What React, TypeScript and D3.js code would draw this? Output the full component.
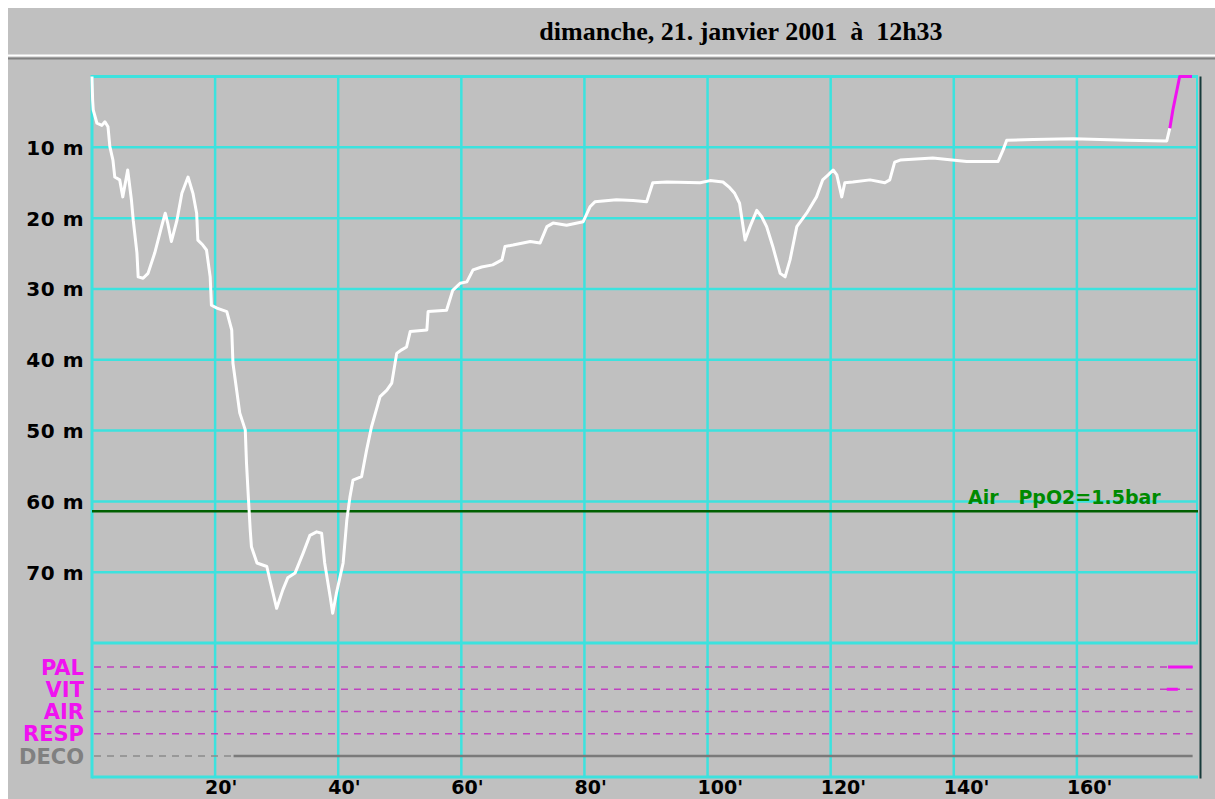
import React from "react";
import * as d3 from "d3";

// ---- data ----
const title = "dimanche, 21. janvier 2001  à  12h33";
const minuteTicks = [20, 40, 60, 80, 100, 120, 140, 160];
const depthTicks = [10, 20, 30, 40, 50, 60, 70];
const alarmRows = ["PAL", "VIT", "AIR", "RESP", "DECO"];
const ppo2Depth = 61.4;
const ppo2Label = "Air   PpO2=1.5bar";

// dive profile: [minutes, depth m]
const profile: [number, number][] = [
  [0, 0], [0.1, 3.3], [0.2, 4.7], [0.8, 6.6], [1.6, 6.9], [2.1, 6.4], [2.6, 7.1], [2.9, 9.9],
  [3.4, 11.8], [3.7, 14.2], [4.5, 14.6], [5.0, 17.0], [5.8, 13.2], [6.4, 17.4], [6.7, 20.3],
  [7.3, 24.9], [7.5, 28.3], [8.3, 28.5], [9.1, 27.8], [10.2, 24.9], [11.3, 21.2], [11.9, 19.3],
  [12.3, 20.7], [12.9, 23.3], [13.8, 20.3], [14.6, 16.5], [15.6, 14.2], [16.4, 16.5], [17.0, 19.3],
  [17.2, 23.1], [18.0, 23.8], [18.6, 24.5], [19.2, 28.3], [19.4, 32.3], [20.3, 32.7], [21.9, 33.2],
  [22.7, 35.8], [22.9, 40.5], [23.5, 44.3], [24.0, 47.5], [24.9, 49.9], [25.1, 54.6], [25.4, 59.4],
  [25.7, 64.0], [25.9, 66.4], [26.8, 68.7], [28.4, 69.2], [28.9, 71.1], [30.0, 75.1], [31.0, 72.5],
  [31.8, 70.8], [33.0, 70.1], [34.3, 67.3], [35.4, 64.8], [36.5, 64.3], [37.3, 64.5], [37.8, 68.7],
  [38.7, 73.5], [39.1, 75.8], [39.7, 73.0], [40.8, 68.7], [41.4, 62.6], [41.9, 59.4], [42.4, 57.0],
  [43.8, 56.5], [44.6, 52.8], [45.4, 49.5], [46.8, 45.2], [47.9, 44.3], [48.7, 43.3], [49.5, 39.1],
  [50.3, 38.6], [51.1, 38.2], [51.7, 36.0], [54.4, 35.8], [54.6, 33.2], [57.6, 33.0], [58.6, 30.2],
  [59.8, 29.2], [60.9, 29.0], [61.9, 27.3], [63.3, 26.9], [65.1, 26.6], [66.6, 25.9], [67.1, 24.0],
  [68.4, 23.8], [71.2, 23.3], [72.8, 23.5], [73.9, 21.2], [74.9, 20.7], [77.1, 21.0], [79.8, 20.5],
  [80.9, 18.4], [81.7, 17.7], [85.2, 17.4], [87.9, 17.5], [90.1, 17.7], [91.1, 15.0], [93.4, 14.9],
  [98.8, 15.0], [100.4, 14.7], [102.5, 14.9], [103.6, 15.7], [104.4, 16.5], [105.2, 17.9],
  [106.1, 23.1], [106.9, 21.2], [108.0, 18.9], [108.8, 19.8], [109.6, 21.2], [110.6, 24.0],
  [111.8, 27.8], [112.6, 28.3], [113.4, 25.9], [114.5, 21.2], [116.1, 19.3], [117.7, 17.0],
  [118.7, 14.6], [119.6, 13.9], [120.4, 13.2], [121.0, 13.9], [121.8, 17.0], [122.3, 15.0],
  [123.6, 14.9], [126.4, 14.6], [128.8, 15.0], [129.6, 14.6], [130.4, 12.1], [131.3, 11.8],
  [136.6, 11.5], [142.1, 12.0], [147.2, 12.0], [148.0, 10.4], [148.6, 9.0], [152.9, 8.9],
  [159.4, 8.8], [168.1, 9.0], [174.6, 9.1], [175.1, 7.3],
];
// final ascent flagged (magenta)
const ascent: [number, number][] = [[175.1, 7.3], [175.6, 4.7], [176.7, 0], [178.7, 0]];
const palEvents: [number, number][] = [[174.8, 178.8]];
const vitEvents: [number, number][] = [[174.6, 176.4]];
const decoSegments: [number, number][] = [[23.0, 178.8]];

const CYAN = "#3ce2de";
const MAGENTA = "#f012f0";
const DASH = "#c040c0";

export default function App() {
  const x = d3.scaleLinear().domain([0, 180]).range([92, 1200]);
  const y = d3.scaleLinear().domain([0, 80]).range([76.5, 643]);
  const row = d3.scalePoint<string>().domain(alarmRows).range([667, 756]);
  const line = d3.line<[number, number]>().x((d) => x(d[0])).y((d) => y(d[1]));
  const bottom = 777;
  const xEnd = 1198;
  const lineEnd = x(178.8);

  return (
    <svg
      width={1215}
      height={799}
      style={{ position: "absolute", left: 0, top: 0, display: "block" }}
    >
      <rect x={0} y={0} width={1215} height={799} fill="#ffffff" />
      <rect x={8} y={8} width={1207} height={791} fill="#c0c0c0" />
      {/* title */}
      <text
        x={741}
        y={40}
        textAnchor="middle"
        fontFamily="'Liberation Serif', serif"
        fontWeight="bold"
        fontSize={26}
        fill="#000"
        style={{ whiteSpace: "pre" }}
      >
        {title}
      </text>
      <rect x={8} y={54.5} width={1207} height={2} fill="#ffffff" />
      <rect x={8} y={57.5} width={1207} height={2} fill="#808080" />

      {/* vertical grid */}
      {minuteTicks.map((t) => (
        <line key={"v" + t} x1={x(t)} x2={x(t)} y1={y(0)} y2={bottom} stroke={CYAN} strokeWidth={2.5} />
      ))}
      {/* horizontal grid */}
      {depthTicks.map((d) => (
        <line key={"h" + d} x1={x(0)} x2={xEnd} y1={y(d)} y2={y(d)} stroke={CYAN} strokeWidth={2.5} />
      ))}
      {/* borders */}
      <line x1={x(0)} x2={xEnd} y1={y(0)} y2={y(0)} stroke={CYAN} strokeWidth={3} />
      <line x1={x(0)} x2={xEnd} y1={y(80)} y2={y(80)} stroke={CYAN} strokeWidth={3} />
      <line x1={x(0)} x2={xEnd} y1={bottom} y2={bottom} stroke={CYAN} strokeWidth={3} />
      <line x1={x(0)} x2={x(0)} y1={y(0) - 1.5} y2={bottom + 1.5} stroke={CYAN} strokeWidth={3} />
      <line x1={xEnd - 1} x2={xEnd - 1} y1={y(0) - 1.5} y2={y(80)} stroke={CYAN} strokeWidth={2} />
      <line x1={1200.5} x2={1200.5} y1={y(0)} y2={bottom + 1.5} stroke="#173a3a" strokeWidth={2} />

      {/* y labels */}
      {depthTicks.map((d) => (
        <text
          key={"yl" + d}
          x={84}
          y={y(d) + 7.5}
          textAnchor="end"
          fontFamily="'DejaVu Sans', sans-serif"
          fontWeight="bold"
          fontSize={20}
          letterSpacing={0.5}
          fill="#000"
        >
          {`${d} m`}
        </text>
      ))}
      {/* x labels */}
      {minuteTicks.map((t) => (
        <text
          key={"xl" + t}
          x={x(t) - 10}
          y={794}
          textAnchor="start"
          fontFamily="'DejaVu Sans', sans-serif"
          fontWeight="bold"
          fontSize={19}
          fill="#000"
        >
          {`${t}'`}
        </text>
      ))}

      {/* PpO2 line */}
      <line x1={x(0)} x2={xEnd} y1={y(ppo2Depth)} y2={y(ppo2Depth)} stroke="#006000" strokeWidth={2.5} />
      <text
        x={968}
        y={y(ppo2Depth) - 7}
        fontFamily="'DejaVu Sans', sans-serif"
        fontWeight="bold"
        fontSize={19}
        fill="#008a00"
        style={{ whiteSpace: "pre" }}
      >
        {ppo2Label}
      </text>

      {/* profile */}
      <path d={line(profile) || ""} fill="none" stroke="#ffffff" strokeWidth={3} strokeLinejoin="round" />
      <path d={line(ascent) || ""} fill="none" stroke={MAGENTA} strokeWidth={3} strokeLinejoin="round" />

      {/* alarm rows */}
      {alarmRows.map((r) => {
        const isDeco = r === "DECO";
        const x2 = isDeco ? x(decoSegments[0][0]) : lineEnd;
        return (
          <g key={r}>
            <line
              x1={x(0) + 2}
              x2={x2}
              y1={row(r)}
              y2={row(r)}
              stroke={isDeco ? "#8a8a8a" : DASH}
              strokeWidth={1.5}
              strokeDasharray="7,6"
            />
            <text
              x={84}
              y={(row(r) as number) + 7.5}
              textAnchor="end"
              fontFamily="'DejaVu Sans', sans-serif"
              fontWeight="bold"
              fontSize={21}
              fill={isDeco ? "#808080" : MAGENTA}
            >
              {r}
            </text>
          </g>
        );
      })}
      {palEvents.map((e, i) => (
        <line key={"pal" + i} x1={x(e[0])} x2={x(e[1])} y1={row("PAL")} y2={row("PAL")} stroke={MAGENTA} strokeWidth={3} />
      ))}
      {vitEvents.map((e, i) => (
        <line key={"vit" + i} x1={x(e[0])} x2={x(e[1])} y1={row("VIT")} y2={row("VIT")} stroke={MAGENTA} strokeWidth={3} />
      ))}
      {decoSegments.map((e, i) => (
        <line key={"deco" + i} x1={x(e[0])} x2={x(e[1])} y1={row("DECO")} y2={row("DECO")} stroke="#7a7a7a" strokeWidth={2.5} />
      ))}
    </svg>
  );
}
